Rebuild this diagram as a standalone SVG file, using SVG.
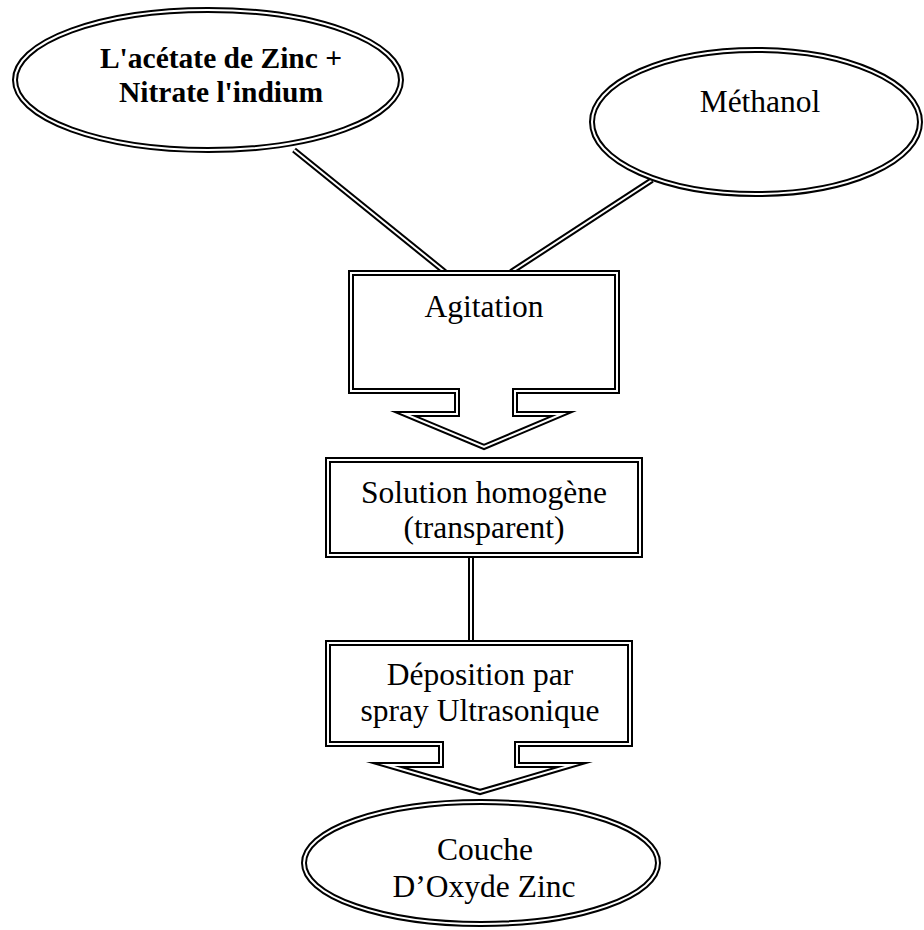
<svg xmlns="http://www.w3.org/2000/svg" width="924" height="930" viewBox="0 0 924 930">
<style>
.o{fill:#fff;stroke:#000;stroke-width:6;stroke-miterlimit:12;stroke-linejoin:miter}
.i{fill:none;stroke:#fff;stroke-width:2;stroke-miterlimit:12;stroke-linejoin:miter}
.co{stroke:#000;stroke-width:6;fill:none}
.ci{stroke:#fff;stroke-width:2;fill:none}
.t{font-family:"Liberation Serif","Times New Roman",serif;font-size:31.5px;fill:#000;text-anchor:middle}
.b{font-weight:bold;font-size:29.5px}
</style>
<g id="connectors">
<path class="co" d="M294,150 L445,272"/>
<path class="ci" d="M294,150 L445,272"/>
<path class="co" d="M652,180 L511,272"/>
<path class="ci" d="M652,180 L511,272"/>
<path class="co" d="M471,552 L471,645"/>
<path class="ci" d="M471,552 L471,645"/>
</g>
<g id="n1">
<ellipse class="o" cx="208" cy="80" rx="193" ry="70"/>
<ellipse class="i" cx="208" cy="80" rx="193" ry="70"/>
<text class="t b" x="221" y="68">L'acétate de Zinc +</text>
<text class="t b" x="221" y="102">Nitrate l'indium</text>
</g>
<g id="n2">
<ellipse class="o" cx="756" cy="122" rx="164" ry="72"/>
<ellipse class="i" cx="756" cy="122" rx="164" ry="72"/>
<text class="t" x="760" y="112">Méthanol</text>
</g>
<g id="n3">
<path class="o" d="M351,273 L617,273 L617,391 L515,391 L515,414 L562,414 L484,447 L405,414 L457,414 L457,391 L351,391 Z"/>
<path class="i" d="M351,273 L617,273 L617,391 L515,391 L515,414 L562,414 L484,447 L405,414 L457,414 L457,391 L351,391 Z"/>
<text class="t" x="484" y="317">Agitation</text>
</g>
<g id="n4">
<rect class="o" x="328" y="460" width="312" height="95"/>
<rect class="i" x="328" y="460" width="312" height="95"/>
<text class="t" x="484" y="503">Solution homogène</text>
<text class="t" x="484" y="538">(transparent)</text>
</g>
<g id="n5">
<path class="o" d="M328,643 L630,643 L630,744 L517,744 L517,765 L572,765 L480,792 L387,765 L441,765 L441,744 L328,744 Z"/>
<path class="i" d="M328,643 L630,643 L630,744 L517,744 L517,765 L572,765 L480,792 L387,765 L441,765 L441,744 L328,744 Z"/>
<text class="t" x="480" y="685">Déposition par</text>
<text class="t" x="480" y="721">spray Ultrasonique</text>
</g>
<g id="n6">
<ellipse class="o" cx="481" cy="863" rx="177" ry="61"/>
<ellipse class="i" cx="481" cy="863" rx="177" ry="61"/>
<text class="t" x="485" y="860">Couche</text>
<text class="t" x="484" y="897">D’Oxyde Zinc</text>
</g>
</svg>
